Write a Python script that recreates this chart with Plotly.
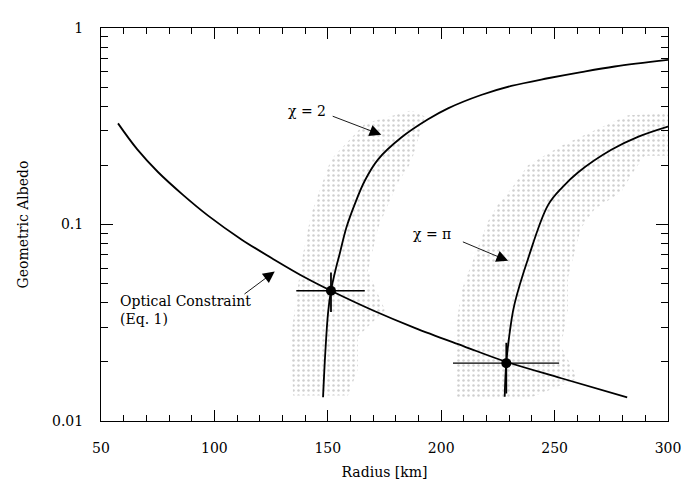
import numpy as np
import plotly.graph_objects as go

# ---- data ----
optical_R = [57.5, 66.0, 75.1, 86.0, 97.2, 111.9, 126.6, 140.0, 151.4, 170.0, 188.3, 210.0, 228.7, 253.0, 282.0]
optical_p = [0.327, 0.241, 0.185, 0.142, 0.111, 0.084, 0.0660, 0.0537, 0.046, 0.0365, 0.0298, 0.0240, 0.0200, 0.0165, 0.0132]

chi2_R = [147.9, 148.9, 150.1, 151.4, 153.6, 155.2, 158.2, 161.9, 166.3, 172.1, 182.4, 194.2, 203.0, 217.6, 230.9, 247.0, 261.8, 276.5, 300.0]
chi2_p = [0.0132, 0.0223, 0.0354, 0.046, 0.060, 0.0706, 0.0965, 0.127, 0.167, 0.214, 0.277, 0.343, 0.390, 0.456, 0.507, 0.555, 0.597, 0.637, 0.688]

chipi_R = [228.0, 228.7, 231.0, 232.4, 238.3, 247.1, 253.5, 260.3, 275.0, 287.0, 300.0]
chipi_p = [0.0133, 0.0197, 0.0327, 0.0397, 0.0670, 0.1255, 0.155, 0.184, 0.240, 0.280, 0.315]

# measured solutions with error ranges
sol_R = [151.4, 228.7]
sol_p = [0.046, 0.0197]
sol_R_minus = [15.3, 23.5]
sol_R_plus = [14.9, 23.3]
sol_p_minus = [0.0101, 0.0059]
sol_p_plus = [0.0109, 0.0053]

# stippled uncertainty regions (polygon outlines)
band1_R = [134.7, 133.8, 138.2, 142.6, 146.6, 151.4, 166.4, 186.7, 192.9, 186.7, 181.0, 175.2, 172.1, 167.7, 175.2, 163.3, 163.3, 158.9]
band1_p = [0.0135, 0.027, 0.063, 0.112, 0.151, 0.214, 0.327, 0.38, 0.355, 0.207, 0.164, 0.116, 0.0955, 0.058, 0.0367, 0.0269, 0.0184, 0.0135]

band2_R = [206.6, 206.0, 208.9, 220.6, 225.0, 230.9, 238.3, 252.8, 267.7, 282.4, 300.0, 300.0, 289.7, 285.3, 279.3, 267.7, 261.6, 255.9, 255.9, 252.8, 260.3, 238.3]
band2_p = [0.013, 0.027, 0.0462, 0.1035, 0.126, 0.152, 0.20, 0.251, 0.302, 0.36, 0.367, 0.224, 0.224, 0.19, 0.146, 0.12, 0.0957, 0.0537, 0.0367, 0.024, 0.0164, 0.013]

x_ticks = [50, 100, 150, 200, 250, 300]
y_ticks = [0.01, 0.1, 1]
y_ticktext = ["0.01", "0.1", "1"]
y_minor = [0.02, 0.03, 0.04, 0.05, 0.06, 0.07, 0.08, 0.09,
           0.2, 0.3, 0.4, 0.5, 0.6, 0.7, 0.8, 0.9]

FONT = "DejaVu Serif"
FS = 14

fig = go.Figure()

for bR, bp in [(band1_R, band1_p), (band2_R, band2_p)]:
    fig.add_trace(go.Scatter(
        x=bR, y=bp, mode="none", fill="toself",
        fillcolor="rgba(0,0,0,0)",
        fillpattern=dict(shape=".", fgcolor="#a0a0a0", bgcolor="rgba(0,0,0,0)",
                         size=5, solidity=0.2),
        hoverinfo="skip", showlegend=False))

for R, p in [(optical_R, optical_p), (chi2_R, chi2_p), (chipi_R, chipi_p)]:
    fig.add_trace(go.Scatter(
        x=R, y=p, mode="lines", line=dict(color="black", width=1.8, shape="spline", smoothing=1.0),
        showlegend=False))

fig.add_trace(go.Scatter(
    x=sol_R, y=sol_p, mode="markers",
    marker=dict(color="black", size=10),
    error_x=dict(type="data", symmetric=False, array=sol_R_plus, arrayminus=sol_R_minus,
                 color="black", thickness=1.3, width=0),
    error_y=dict(type="data", symmetric=False, array=sol_p_plus, arrayminus=sol_p_minus,
                 color="black", thickness=1.8, width=0),
    showlegend=False))

lg = np.log10
annots = [
    dict(x=150.1, y=lg(0.376), text="χ = 2", xanchor="right", yanchor="middle", showarrow=False),
    dict(x=205.2, y=lg(0.0891), text="χ = π", xanchor="right", yanchor="middle", showarrow=False),
    dict(x=57.5, y=lg(0.0367), text="Optical Constraint<br>(Eq. 1)", xanchor="left",
         yanchor="middle", align="left", showarrow=False),
]
arrows = [
    ((151.5, 0.358), (173.6, 0.286)),
    ((208.9, 0.0822), (229.5, 0.0653)),
    ((112.6, 0.0437), (126.6, 0.0577)),
]
for (tx, ty), (hx, hy) in arrows:
    annots.append(dict(x=hx, y=lg(hy), ax=tx, ay=lg(ty), axref="x", ayref="y",
                       xref="x", yref="y", text="", showarrow=True,
                       arrowhead=2, arrowsize=2.6, arrowwidth=0.9, arrowcolor="black"))
for a in annots:
    a.setdefault("font", dict(family=FONT, size=FS, color="black"))
fig.update_layout(annotations=annots)

fig.update_layout(
    width=689, height=485,
    margin=dict(l=93, r=29, t=13, b=72),
    paper_bgcolor="white", plot_bgcolor="white",
    font=dict(family=FONT, size=FS, color="black"),
)
fig.update_xaxes(
    range=[50, 300], tickvals=x_ticks, ticks="inside", ticklen=11, tickwidth=1,
    tickcolor="black", showline=True, linecolor="black", linewidth=1, mirror="ticks",
    showgrid=False, zeroline=False, ticklabelstandoff=14,
    minor=dict(dtick=10, ticks="inside", ticklen=6, tickcolor="black", showgrid=False),
    title=dict(text="Radius [km]", font=dict(family=FONT, size=FS), standoff=12),
    tickfont=dict(family=FONT, size=FS),
)
fig.update_yaxes(
    type="log", range=[-2, 0], tickvals=y_ticks, ticktext=y_ticktext, ticks="inside",
    ticklen=12, tickwidth=1, tickcolor="black", showline=True, linecolor="black",
    linewidth=1, mirror="ticks", showgrid=False, zeroline=False, ticklabelstandoff=14,
    minor=dict(tickvals=y_minor, ticks="inside", ticklen=7, tickcolor="black", showgrid=False),
    title=dict(text="Geometric Albedo", font=dict(family=FONT, size=FS), standoff=20),
    tickfont=dict(family=FONT, size=FS),
)

fig.write_html("out.html")
